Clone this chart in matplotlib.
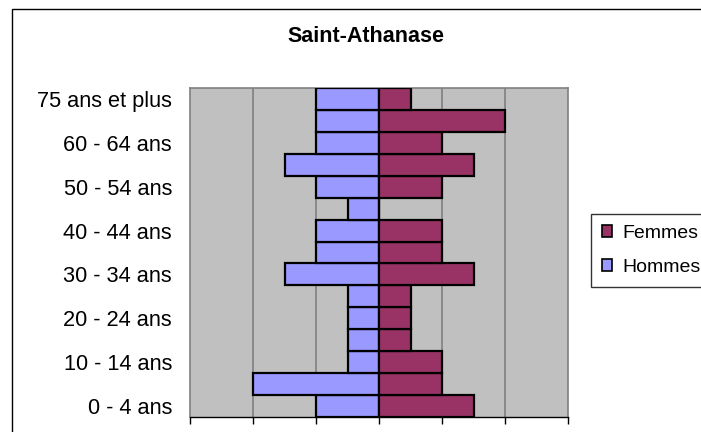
import matplotlib
matplotlib.use("Agg")
import matplotlib.pyplot as plt
from matplotlib.patches import Rectangle, Patch
import numpy as np

plt.rcParams['font.family'] = ['Liberation Sans', 'DejaVu Sans']

categories = ["0 - 4 ans", "5 - 9 ans", "10 - 14 ans", "15 - 19 ans", "20 - 24 ans",
              "25 - 29 ans", "30 - 34 ans", "35 - 39 ans", "40 - 44 ans", "45 - 49 ans",
              "50 - 54 ans", "55 - 59 ans", "60 - 64 ans", "65 - 74 ans", "75 ans et plus"]
hommes = [10, 20, 5, 5, 5, 5, 15, 10, 10, 5, 10, 15, 10, 10, 10]
femmes = [15, 10, 10, 5, 5, 5, 15, 10, 10, 0, 10, 15, 10, 20, 5]
title = "Saint-Athanase"

W, H = 701, 432
fig = plt.figure(figsize=(W / 100, H / 100), dpi=100)

# outer chart frame
fig.patches.append(Rectangle((12 / W, -0.1), 1.2, 1 - 9 / H + 0.1, transform=fig.transFigure,
                             fill=False, edgecolor='black', linewidth=1.0, zorder=0))

left, right, top, bottom = 190, 568, 88, 417
ax = fig.add_axes([left / W, 1 - bottom / H, (right - left) / W, (bottom - top) / H])
ax.set_facecolor('#C0C0C0')

y = np.arange(len(categories))
ax.barh(y, [-h for h in hommes], height=1.0, color='#9999FF', edgecolor='black', linewidth=1.6, zorder=3)
ax.barh(y, femmes, height=1.0, color='#993366', edgecolor='black', linewidth=1.6, zorder=3)

ax.set_xlim(-30, 30)
ax.set_ylim(-0.5, len(categories) - 0.5)
ax.set_xticks([-30, -20, -10, 0, 10, 20, 30])
ax.set_xticklabels([])
for xv in [-20, -10, 10, 20]:
    ax.axvline(xv, color='#808080', linewidth=1.2, zorder=1)

ax.set_yticks(y[::2])
ax.set_yticklabels(categories[::2], fontsize=15.7)
ax.tick_params(axis='y', length=0, pad=13)
ax.tick_params(axis='x', direction='out', length=5, width=1, color='black')

for s in ['left', 'right', 'top']:
    ax.spines[s].set_color('#808080')
    ax.spines[s].set_linewidth(1.2)
ax.spines['bottom'].set_color('black')
ax.spines['bottom'].set_linewidth(1.0)

fig.text(366 / W, 1 - 36 / H, title, ha='center', va='center', fontsize=15.5, fontweight='bold')

handles = [Patch(facecolor='#993366', edgecolor='black', linewidth=1.2, label='Femmes'),
           Patch(facecolor='#9999FF', edgecolor='black', linewidth=1.2, label='Hommes')]
leg = fig.legend(handles=handles, loc='upper left', bbox_to_anchor=(591 / W, 1 - 214 / H),
                 bbox_transform=fig.transFigure, fontsize=14, frameon=True, fancybox=False,
                 edgecolor='black', handlelength=0.55, handleheight=0.55, handletextpad=0.5,
                 labelspacing=0.9, borderpad=0.55, borderaxespad=0)
leg.get_frame().set_linewidth(1.0)

fig.savefig('out.png', dpi=100)
